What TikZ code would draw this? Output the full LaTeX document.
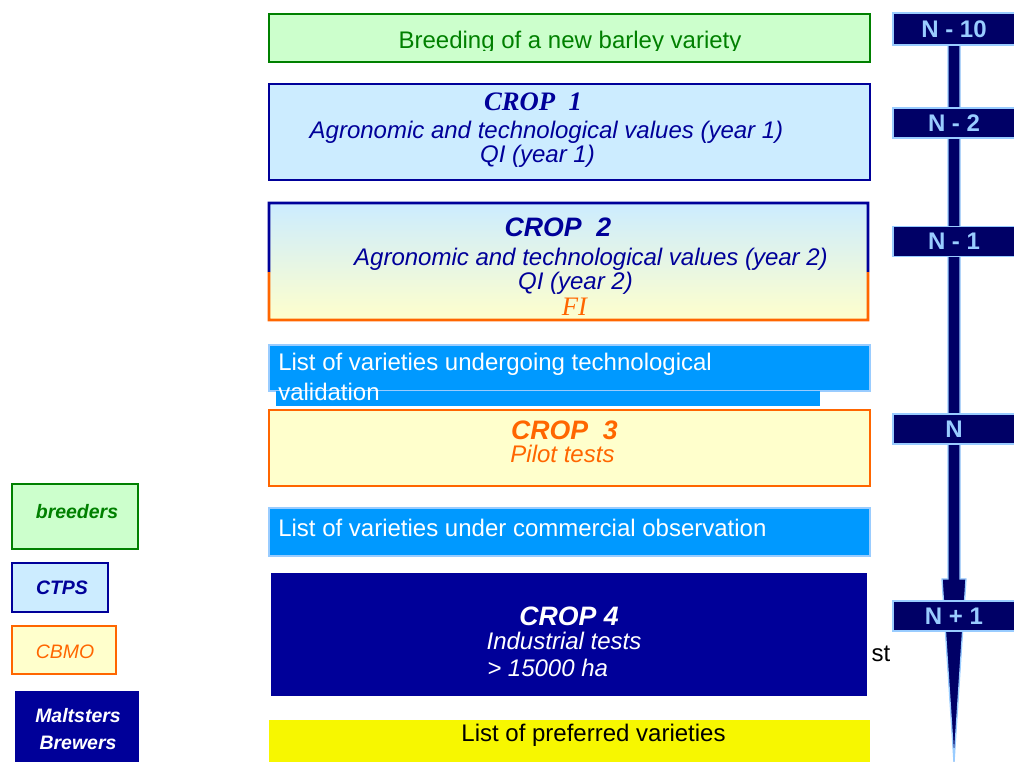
\documentclass[tikz,border=0pt]{standalone}
\usepackage{fontspec}
\setmainfont{Liberation Sans}
\newfontfamily\serifface{Liberation Serif}
\usepackage{tikz}
\usetikzlibrary{calc}
\definecolor{ctpsblue}{HTML}{000099}
\definecolor{ctpsfill}{HTML}{CCECFF}
\definecolor{breedgreen}{HTML}{008000}
\definecolor{breedfill}{HTML}{CCFFCC}
\definecolor{cbmoorange}{HTML}{FF6600}
\definecolor{cbmofill}{HTML}{FFFFCC}
\definecolor{listblue}{HTML}{0099FF}
\definecolor{edgeblue}{HTML}{99CCFF}
\definecolor{yearnavy}{HTML}{000066}
\definecolor{prefyellow}{HTML}{F7F700}

\begin{document}
\begin{tikzpicture}[x=0.75pt, y=-0.75pt,
  box/.style={rectangle, inner sep=0pt, outer sep=0pt},
  breedbox/.style={box, draw=breedgreen, fill=breedfill, line width=2pt},
  ctpsbox/.style={box, draw=ctpsblue, fill=ctpsfill, line width=2pt},
  cbmobox/.style={box, draw=cbmoorange, fill=cbmofill, line width=2pt},
  listbox/.style={box, draw=edgeblue, fill=listblue, line width=1pt, minimum width=450.75pt},
  yearbox/.style={box, draw=edgeblue, fill=yearnavy, line width=1.2pt, minimum width=91.5pt, minimum height=22.5pt,
    text=edgeblue, font=\fontsize{18pt}{21pt}\selectfont\bfseries},
  txt/.style={inner sep=0pt, font=\fontsize{18pt}{21pt}\selectfont},
  itxt/.style={inner sep=0pt, font=\fontsize{18pt}{21pt}\selectfont\itshape},
  crophead/.style={inner sep=0pt, font=\fontsize{20pt}{24pt}\selectfont\bfseries\itshape},
  legtxt/.style={inner sep=0pt, align=center, font=\fontsize{14.6pt}{20.25pt}\selectfont\bfseries\itshape},
]
\useasboundingbox (0,0) rectangle (1014,762);

\node[breedbox, minimum width=450.75pt, minimum height=36pt] (breed) at (569.5,38) {};
\begin{scope}
\clip (270,15) rectangle (869,50.5);
\node[txt, text=breedgreen, anchor=base] (breedtxt) at (570,49) {Breeding of a new barley variety};
\end{scope}

\node[ctpsbox, minimum width=450.75pt, minimum height=72pt] (crop1) at (569.5,132) {};
\node[crophead, font=\fontsize{20pt}{24pt}\selectfont\serifface\bfseries\itshape, text=ctpsblue] (crop1head) at (533,102) {CROP\ \ 1};
\node[itxt, text=ctpsblue] (crop1val) at (546.5,132) {Agronomic and technological values (year 1)};
\node[itxt, text=ctpsblue] (crop1qi) at (537.5,156) {QI (year 1)};

\node[box, top color=ctpsfill, bottom color=cbmofill, minimum width=449.25pt, minimum height=87.75pt] (crop2) at (568.5,261.5) {};
\coordinate (c2w) at ($(crop2.north west)!0.59!(crop2.south west)$);
\coordinate (c2e) at ($(crop2.north east)!0.59!(crop2.south east)$);
\draw[ctpsblue, line width=2pt] (c2w) -- (crop2.north west) -- (crop2.north east) -- (c2e);
\draw[cbmoorange, line width=2pt] (c2w) -- (crop2.south west) -- (crop2.south east) -- (c2e);
\node[crophead, text=ctpsblue] (crop2head) at (558,227) {CROP\ \ 2};
\node[itxt, text=ctpsblue] (crop2val) at (591,259) {Agronomic and technological values (year 2)};
\node[itxt, text=ctpsblue] (crop2qi) at (575.5,283) {QI (year 2)};
\node[inner sep=0pt, text=cbmoorange, font=\fontsize{20pt}{24pt}\selectfont\serifface\itshape] (crop2fi) at (574.5,307) {FI};

\node[listbox, minimum height=34.5pt] (list1) at (569.5,368) {};
\node[box, fill=listblue, minimum width=408pt, minimum height=11.25pt] (valband) at (548,398.5) {};
\node[txt, text=white, anchor=west] (list1a) at (278,364) {List of varieties undergoing technological};
\node[txt, text=white, anchor=west] (list1b) at (278,392) {validation};

\node[cbmobox, minimum width=450.75pt, minimum height=57pt] (crop3) at (569.5,448) {};
\node[crophead, text=cbmoorange] (crop3head) at (564.5,430.5) {CROP\ \ 3};
\node[itxt, text=cbmoorange] (crop3pilot) at (562.5,453.5) {Pilot tests};

\node[listbox, minimum height=36pt] (list2) at (569.5,532) {};
\node[txt, text=white, anchor=west] (list2txt) at (278,528) {List of varieties under commercial observation};

\node[box, fill=ctpsblue, minimum width=447pt, minimum height=92.25pt] (crop4) at (569,634.5) {};
\node[crophead, text=white] (crop4head) at (569,616) {CROP 4};
\node[itxt, text=white] (crop4ind) at (564,641) {Industrial tests};
\node[itxt, text=white, anchor=west] (crop4ha) at (487,668) {> 15000 ha};
\node[txt] (st) at (881,654) {st};

\node[box, fill=prefyellow, minimum width=450.75pt, minimum height=31.5pt] (pref) at (569.5,741) {};
\node[txt] (preftxt) at (593.5,735) {List of preferred varieties};

\node[breedbox, minimum width=94.5pt, minimum height=48.75pt] (legbreed) at (75,516.5) {};
\node[legtxt, text=breedgreen] (legbreedtxt) at (77,512) {breeders};
\node[ctpsbox, minimum width=72pt, minimum height=36.75pt] (legctps) at (60,587.5) {};
\node[legtxt, text=ctpsblue] (legctpstxt) at (62,588) {CTPS};
\node[cbmobox, minimum width=78pt, minimum height=36pt] (legcbmo) at (64,650) {};
\node[legtxt, font=\fontsize{14.6pt}{17pt}\selectfont\itshape, text=cbmoorange] (legcbmotxt) at (65,652) {CBMO};
\node[box, fill=ctpsblue, minimum width=93pt, minimum height=53.25pt] (legmalt) at (77,726.5) {};
\node[legtxt, text=white] (legmalttxt) at (78,729) {Maltsters\\Brewers};

\coordinate (bartop) at (954,40);
\coordinate (head) at (954,579);
\coordinate (tip) at (954,762);
\path[fill=yearnavy, draw=edgeblue, line width=1pt] ([xshift=-4.5pt]bartop) -- ([xshift=4.5pt]bartop)
  -- ([xshift=4.5pt]head) -- ([xshift=9pt]head) -- (tip) -- ([xshift=-9pt]head) -- ([xshift=-4.5pt]head) -- cycle;
\node[yearbox, minimum height=24pt] (n10) at (954,29) {N - 10};
\node[yearbox] (n2) at (954,123) {N - 2};
\node[yearbox] (n1) at (954,241.5) {N - 1};
\node[yearbox] (n0) at (954,429) {N};
\node[yearbox] (np1) at (954,616) {N + 1};
\end{tikzpicture}
\end{document}
